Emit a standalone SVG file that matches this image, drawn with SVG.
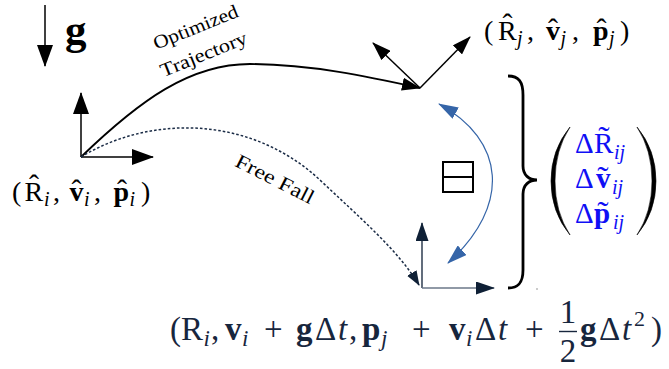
<svg xmlns="http://www.w3.org/2000/svg" width="669" height="369" viewBox="0 0 669 369">
<style>
.m{font-family:"Liberation Serif","DejaVu Serif",serif;fill:#000}
.b{font-weight:bold}
.it{font-style:italic}
.nv{fill:#17263d}
.bl{fill:#0f0ff5}
.ln{fill:none;stroke:#000;stroke-width:1.5}
.acc{text-anchor:middle}
</style>
<defs>
<marker id="mBig" markerUnits="userSpaceOnUse" viewBox="0 0 22 16" markerWidth="22" markerHeight="16" refX="21" refY="8" orient="auto"><path d="M0,0 L22,8 L0,16 Z" fill="#000"/></marker>
<marker id="mMid" markerUnits="userSpaceOnUse" viewBox="0 0 19 13" markerWidth="19" markerHeight="13" refX="18" refY="6.5" orient="auto"><path d="M0,0 L19,6.5 L0,13 Z" fill="#000"/></marker>
<marker id="mNavy" markerUnits="userSpaceOnUse" viewBox="0 0 19 13" markerWidth="19" markerHeight="13" refX="18" refY="6.5" orient="auto"><path d="M0,0 L19,6.5 L0,13 Z" fill="#0f2036"/></marker>
<marker id="mFF" markerUnits="userSpaceOnUse" viewBox="0 0 15 11" markerWidth="15" markerHeight="11" refX="14" refY="5.5" orient="auto"><path d="M0,0 L15,5.5 L0,11 Z" fill="#0f2036"/></marker>
<marker id="mBlue" markerUnits="userSpaceOnUse" viewBox="0 0 20 13" markerWidth="20" markerHeight="13" refX="19" refY="6.5" orient="auto-start-reverse"><path d="M0,0 L20,6.5 L0,13 Z" fill="#3565a8"/></marker>
</defs>

<g id="gravity">
<line x1="45" y1="5" x2="45" y2="66" class="ln" marker-end="url(#mBig)"/>
<text class="m b" x="65" y="44" font-size="43">g</text>
</g>

<g id="frame-i">
<line x1="81" y1="157" x2="81" y2="93" class="ln" marker-end="url(#mBig)"/>
<line x1="81" y1="157" x2="153" y2="157" class="ln" marker-end="url(#mBig)"/>
<g class="m" font-size="28">
<text x="12" y="201">(</text>
<text x="24.5" y="201">R</text>
<text x="34" y="195" class="acc" font-size="30">ˆ</text>
<text x="44" y="206" class="it" font-size="20">i</text>
<text x="53" y="201">,</text>
<text x="69.5" y="201" class="b">v</text>
<text x="76.5" y="200" class="acc" font-size="30">ˆ</text>
<text x="84" y="206" class="it" font-size="20">i</text>
<text x="94" y="201">,</text>
<text x="113.5" y="201" class="b">p</text>
<text x="122" y="200" class="acc" font-size="30">ˆ</text>
<text x="129.5" y="206" class="it" font-size="20">i</text>
<text x="141" y="201">)</text>
</g>
</g>

<g id="frame-j">
<line x1="420" y1="88" x2="373" y2="43" class="ln" marker-end="url(#mMid)"/>
<line x1="420" y1="88" x2="470" y2="37" class="ln" marker-end="url(#mMid)"/>
<g class="m" font-size="28">
<text x="484" y="40">(</text>
<text x="498" y="40">R</text>
<text x="507.5" y="34" class="acc" font-size="30">ˆ</text>
<text x="517" y="45" class="it" font-size="20">j</text>
<text x="527" y="40">,</text>
<text x="546" y="40" class="b">v</text>
<text x="553" y="39" class="acc" font-size="30">ˆ</text>
<text x="560.5" y="45" class="it" font-size="20">j</text>
<text x="572" y="40">,</text>
<text x="593" y="40" class="b">p</text>
<text x="601.5" y="39" class="acc" font-size="30">ˆ</text>
<text x="609" y="45" class="it" font-size="20">j</text>
<text x="620" y="40">)</text>
</g>
</g>

<g id="frame-k">
<line x1="422" y1="288" x2="422" y2="223" fill="none" stroke="#0f2036" stroke-width="1.3" marker-end="url(#mNavy)"/>
<line x1="422" y1="288" x2="494" y2="288" fill="none" stroke="#6b7788" stroke-width="1.6" marker-end="url(#mNavy)"/>
<g class="m nv" font-size="33">
<text x="170" y="340">(</text>
<text x="181" y="340">R</text>
<text x="203.5" y="346" class="it" font-size="23">i</text>
<text x="211" y="340">,</text>
<text x="225" y="340" class="b">v</text>
<text x="242" y="346" class="it" font-size="23">i</text>
<text x="264" y="340">+</text>
<text x="296" y="340" class="b">g</text>
<text x="315" y="340">Δ</text>
<text x="338" y="340" class="it">t</text>
<text x="349" y="340">,</text>
<text x="362" y="340" class="b">p</text>
<text x="381" y="346" class="it" font-size="23">j</text>
<text x="412" y="340">+</text>
<text x="449" y="340" class="b">v</text>
<text x="466" y="346" class="it" font-size="23">i</text>
<text x="475" y="340">Δ</text>
<text x="498" y="340" class="it">t</text>
<text x="525" y="340">+</text>
<text x="568" y="323" class="acc">1</text>
<text x="568" y="362" class="acc">2</text>
<text x="580" y="340" class="b">g</text>
<text x="599" y="340">Δ</text>
<text x="622" y="340" class="it">t</text>
<text x="634" y="326" font-size="22">2</text>
<text x="651" y="340">)</text>
</g>
<line x1="559" y1="331.5" x2="577" y2="331.5" stroke="#17263d" stroke-width="1.4"/>
</g>

<g id="preintegration">
<rect x="443" y="162" width="30" height="30" fill="none" stroke="#000" stroke-width="2"/>
<line x1="443" y1="177" x2="473" y2="177" stroke="#000" stroke-width="2"/>
</g>

<g id="brace">
<path d="M508,76 C519,76 523,82 523,95 L523,166 C523,175 529,180 537,180 C529,180 523,185 523,194 L523,270 C523,282 519,288 508,288" fill="none" stroke="#000" stroke-width="2.8"/>
<circle cx="537" cy="289" r="0.8" fill="#888"/>
</g>

<g id="delta-matrix">
<path d="M570,127 Q551,150 551,181 Q551,212 570,235 Q555,212 555,181 Q555,150 570,127 Z" fill="#000" stroke="#000" stroke-width="0.6"/>
<path d="M637,127 Q656,150 656,181 Q656,212 637,235 Q652,212 652,181 Q652,150 637,127 Z" fill="#000" stroke="#000" stroke-width="0.6"/>
<g class="m bl" font-size="29">
<text x="575" y="153">Δ</text>
<text x="594" y="153">R</text>
<text x="604" y="150" class="acc" font-size="34">˜</text>
<text x="614" y="159" class="it" font-size="20">ij</text>
<text x="575" y="188">Δ</text>
<text x="596" y="188" class="b">v</text>
<text x="603" y="190" class="acc" font-size="34">˜</text>
<text x="612" y="194" class="it" font-size="20">ij</text>
<text x="575" y="223">Δ</text>
<text x="594" y="223" class="b">p</text>
<text x="603" y="225" class="acc" font-size="34">˜</text>
<text x="613" y="229" class="it" font-size="20">ij</text>
</g>
</g>

<g id="connectors">
<path d="M81,157 C140,100 190,64 250,64 C310,64 370,77 420,88" fill="none" stroke="#000" stroke-width="1.8" marker-end="url(#mMid)"/>
<path d="M81,157 C150,115 250,115 320,180 C360,218 398,250 419,285" fill="none" stroke="#1b2c46" stroke-width="1.5" stroke-dasharray="2.6,2" marker-end="url(#mFF)"/>
<path d="M439,104 C505,140 512,205 448,263" fill="none" stroke="#3565a8" stroke-width="1.2" marker-start="url(#mBlue)" marker-end="url(#mBlue)"/>
<text class="m" font-size="19" text-anchor="middle" transform="translate(198,33) rotate(-22)" textLength="90" lengthAdjust="spacingAndGlyphs">Optimized</text>
<text class="m" font-size="19" text-anchor="middle" transform="translate(206,60) rotate(-22)" textLength="92" lengthAdjust="spacingAndGlyphs">Trajectory</text>
<text class="m" font-size="20" text-anchor="middle" transform="translate(272,185) rotate(27)" textLength="86" lengthAdjust="spacingAndGlyphs">Free Fall</text>
</g>
</svg>
